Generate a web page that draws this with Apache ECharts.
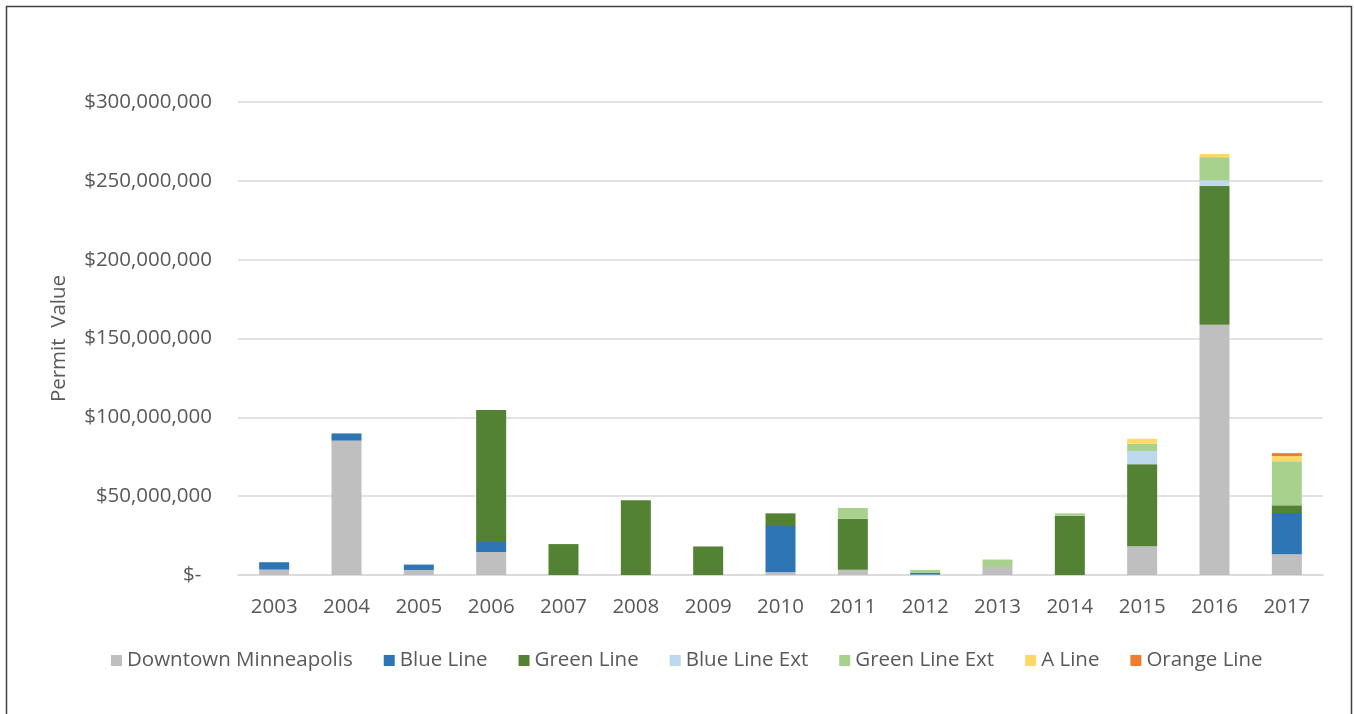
<!DOCTYPE html>
<html>
<head>
<meta charset="utf-8">
<script src="https://cdn.jsdelivr.net/npm/echarts@6/dist/echarts.min.js"></script>
<style>
html,body{margin:0;padding:0;background:#fff;}
#chart{width:1354px;height:714px;}
</style>
</head>
<body>
<div id="chart"></div>
<script>
// Values in millions of dollars
const years = ['2003','2004','2005','2006','2007','2008','2009','2010','2011','2012','2013','2014','2015','2016','2017'];
const downtown  = [3.4, 85.2, 3.2, 14.6, 0, 0, 0, 1.7, 3.4, 0.3, 5.1, 0, 18.3, 158.8, 13.2];
const blueLine  = [4.7, 4.6, 3.4, 6.4, 0, 0, 0, 29.3, 0, 1.2, 0, 0, 0, 0, 26.1];
const greenLine = [0, 0, 0, 83.7, 19.6, 47.4, 18.1, 8.1, 32.3, 0, 0, 37.6, 52.0, 88.0, 4.9];
const blueExt   = [0, 0, 0, 0, 0, 0, 0, 0, 0, 0, 0, 0, 8.2, 3.4, 0];
const greenExt  = [0, 0, 0, 0, 0, 0, 0, 0, 6.8, 1.7, 4.7, 1.5, 4.7, 14.8, 28.0];
const aLine     = [0, 0, 0, 0, 0, 0, 0, 0, 0, 0, 0, 0, 3.2, 2.0, 3.2];
const orangeLine= [0, 0, 0, 0, 0, 0, 0, 0, 0, 0, 0, 0, 0, 0, 1.9];

const seriesDefs = [
  ['Downtown Minneapolis', downtown, '#BFBFBF'],
  ['Blue Line', blueLine, '#2E75B6'],
  ['Green Line', greenLine, '#548235'],
  ['Blue Line Ext', blueExt, '#BDD7EE'],
  ['Green Line Ext', greenExt, '#A9D18E'],
  ['A Line', aLine, '#FFD966'],
  ['Orange Line', orangeLine, '#ED7D31']
];

const FONT = 'Open Sans';
const FS = 20.5;
const chart = echarts.init(document.getElementById('chart'));
chart.setOption({
  animation: false,
  graphic: [{
    type: 'rect',
    shape: {x: 6.5, y: 6.5, width: 1345, height: 720},
    style: {fill: 'none', stroke: '#404040', lineWidth: 1.5},
    silent: true
  }],
  grid: {left: 238, right: 31, top: 102, bottom: 139},
  legend: {
    left: 106, top: 645,
    itemWidth: 11, itemHeight: 11, itemGap: 31,
    icon: 'rect',
    textStyle: {fontFamily: FONT, fontSize: FS, color: '#595959'},
    data: seriesDefs.map(d => d[0])
  },
  xAxis: {
    type: 'category',
    data: years,
    axisLine: {lineStyle: {color: '#d9d9d9', width: 1.5}},
    axisTick: {show: false},
    axisLabel: {fontFamily: FONT, fontSize: FS, color: '#595959', margin: 22}
  },
  yAxis: {
    type: 'value',
    min: 0, max: 300, interval: 50,
    name: 'Permit  Value',
    nameLocation: 'middle',
    nameGap: 168,
    nameRotate: 90,
    nameTextStyle: {fontFamily: FONT, fontSize: FS, color: '#595959'},
    axisLine: {show: false},
    axisTick: {show: false},
    splitLine: {lineStyle: {color: '#d9d9d9', width: 1.5}},
    axisLabel: {
      fontFamily: FONT, fontSize: FS, color: '#595959', margin: 26,
      formatter: v => v === 0 ? '$-  ' : '$' + (v * 1e6).toLocaleString('en-US')
    }
  },
  series: seriesDefs.map(d => ({
    name: d[0],
    type: 'bar',
    stack: 'total',
    barWidth: 30,
    data: d[1],
    itemStyle: {color: d[2]}
  }))
});
</script>
</body>
</html>
